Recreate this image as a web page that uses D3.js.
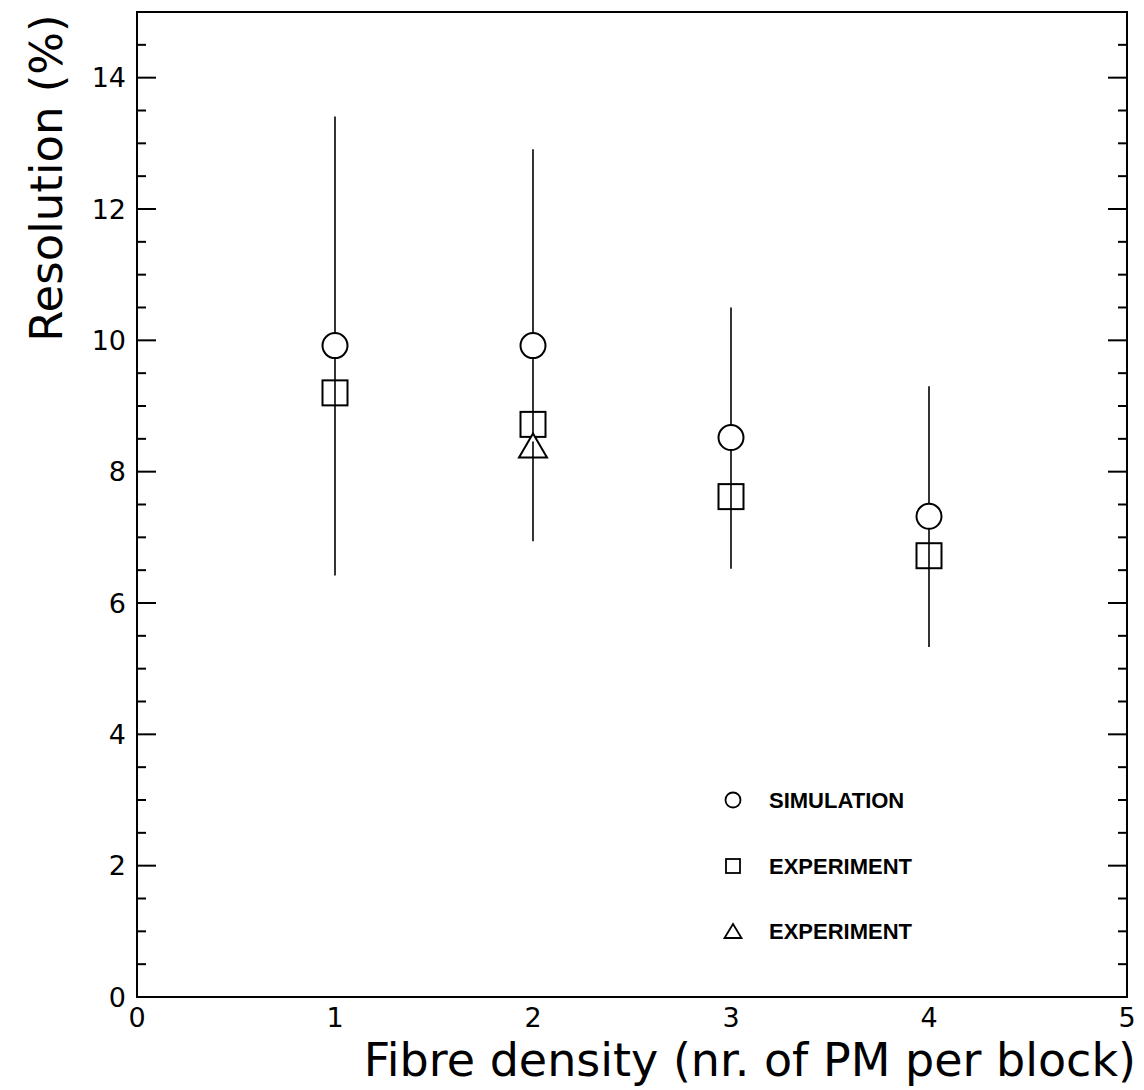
<!DOCTYPE html>
<html>
<head>
<meta charset="utf-8">
<script src="https://cdn.jsdelivr.net/npm/d3@7"></script>
<style>
  body { margin: 0; background: #fff; }
  text { font-family: "DejaVu Sans", "Liberation Sans", sans-serif; fill: #000; }
</style>
</head>
<body>
<svg id="chart" width="1144" height="1090"></svg>
<script>
// fibre density (PM per block)
const density = [1, 2, 3, 4];
const simulation = [9.92, 9.92, 8.52, 7.32];
const experiment = [9.2, 8.72, 7.62, 6.72];
const experiment2X = [2];
const experiment2 = [8.4];
// error bars drawn through each point
const errLow = [6.42, 6.94, 6.52, 5.33];
const errHigh = [13.41, 12.91, 10.5, 9.3];
const xTicks = [0, 1, 2, 3, 4, 5];
const yTicks = [0, 2, 4, 6, 8, 10, 12, 14];
const legendLabels = ["SIMULATION", "EXPERIMENT", "EXPERIMENT"];

const margin = { top: 12, right: 17, bottom: 93, left: 137 };
const width = 1144 - margin.left - margin.right;
const height = 1090 - margin.top - margin.bottom;

const svg = d3.select("#chart");
const g = svg.append("g").attr("transform", `translate(${margin.left},${margin.top})`);

const x = d3.scaleLinear().domain([0, 5]).range([0, width]);
const y = d3.scaleLinear().domain([0, 15]).range([height, 0]);

// frame
g.append("rect")
  .attr("width", width).attr("height", height)
  .attr("fill", "none").attr("stroke", "#000").attr("stroke-width", 2);

// y ticks, left and right, pointing inward
const minorY = d3.range(0, 15.01, 0.5);
[0, width].forEach((px, side) => {
  const dir = side === 0 ? 1 : -1;
  g.append("g").selectAll("line")
    .data(minorY)
    .join("line")
    .attr("x1", px)
    .attr("x2", d => px + dir * (d % 2 === 0 ? 19 : 9))
    .attr("y1", d => y(d)).attr("y2", d => y(d))
    .attr("stroke", "#000").attr("stroke-width", 2);
});

// tick labels
g.append("g").selectAll("text")
  .data(yTicks)
  .join("text")
  .attr("x", -11).attr("y", d => y(d))
  .attr("text-anchor", "end").attr("dy", "0.36em")
  .style("font-size", "27px")
  .text(d => d);

g.append("g").selectAll("text")
  .data(xTicks)
  .join("text")
  .attr("x", d => x(d)).attr("y", height + 9)
  .attr("text-anchor", "middle").attr("dy", "0.76em")
  .style("font-size", "27px")
  .text(d => d);

// axis titles
svg.append("text")
  .attr("transform", "translate(62,178) rotate(-90)")
  .attr("text-anchor", "middle")
  .style("font-size", "45px")
  .text("Resolution (%)");

svg.append("text")
  .attr("x", 1136).attr("y", 1076)
  .attr("text-anchor", "end")
  .style("font-size", "46px")
  .text("Fibre density (nr. of PM per block)");

// error bars
g.append("g").selectAll("line")
  .data(density)
  .join("line")
  .attr("x1", d => x(d)).attr("x2", d => x(d))
  .attr("y1", (d, i) => y(errHigh[i]))
  .attr("y2", (d, i) => y(errLow[i]))
  .attr("stroke", "#000").attr("stroke-width", 1.6);

const tri = (cx, cy, w, h) =>
  `M${cx},${cy - h / 2}L${cx + w / 2},${cy + h / 2}L${cx - w / 2},${cy + h / 2}Z`;

// simulation circles
g.append("g").selectAll("circle")
  .data(density)
  .join("circle")
  .attr("cx", d => x(d))
  .attr("cy", (d, i) => y(simulation[i]))
  .attr("r", 12.5)
  .attr("fill", "#fff").attr("stroke", "#000").attr("stroke-width", 2);

// experiment squares (bar stays visible through the box)
g.append("g").selectAll("rect")
  .data(density)
  .join("rect")
  .attr("x", d => x(d) - 12.5)
  .attr("y", (d, i) => y(experiment[i]) - 12.5)
  .attr("width", 25).attr("height", 25)
  .attr("fill", "none").attr("stroke", "#000").attr("stroke-width", 2);

// second experiment triangle
g.append("g").selectAll("path")
  .data(experiment2X)
  .join("path")
  .attr("d", (d, i) => tri(x(d), y(experiment2[i]), 28, 24))
  .attr("fill", "#fff").attr("stroke", "#000").attr("stroke-width", 2);
g.append("line")
  .attr("x1", x(2)).attr("x2", x(2))
  .attr("y1", y(experiment2[0]) + 12).attr("y2", y(experiment2[0]) - 4)
  .attr("stroke", "#000").attr("stroke-width", 1.6);

// legend
const legY = [800, 866, 931];
const legend = svg.append("g");
legend.append("circle")
  .attr("cx", 733).attr("cy", legY[0]).attr("r", 7.5)
  .attr("fill", "none").attr("stroke", "#000").attr("stroke-width", 1.8);
legend.append("rect")
  .attr("x", 726).attr("y", legY[1] - 7).attr("width", 14).attr("height", 14)
  .attr("fill", "none").attr("stroke", "#000").attr("stroke-width", 1.8);
legend.append("path")
  .attr("d", tri(733, legY[2], 17, 14))
  .attr("fill", "none").attr("stroke", "#000").attr("stroke-width", 1.8);
legend.selectAll("text")
  .data(legendLabels)
  .join("text")
  .attr("x", 769).attr("y", (d, i) => legY[i])
  .attr("dy", "0.36em")
  .style("font-family", "'Liberation Sans', sans-serif")
  .style("font-size", "22px")
  .style("font-weight", "bold")
  .text(d => d);
</script>
</body>
</html>
